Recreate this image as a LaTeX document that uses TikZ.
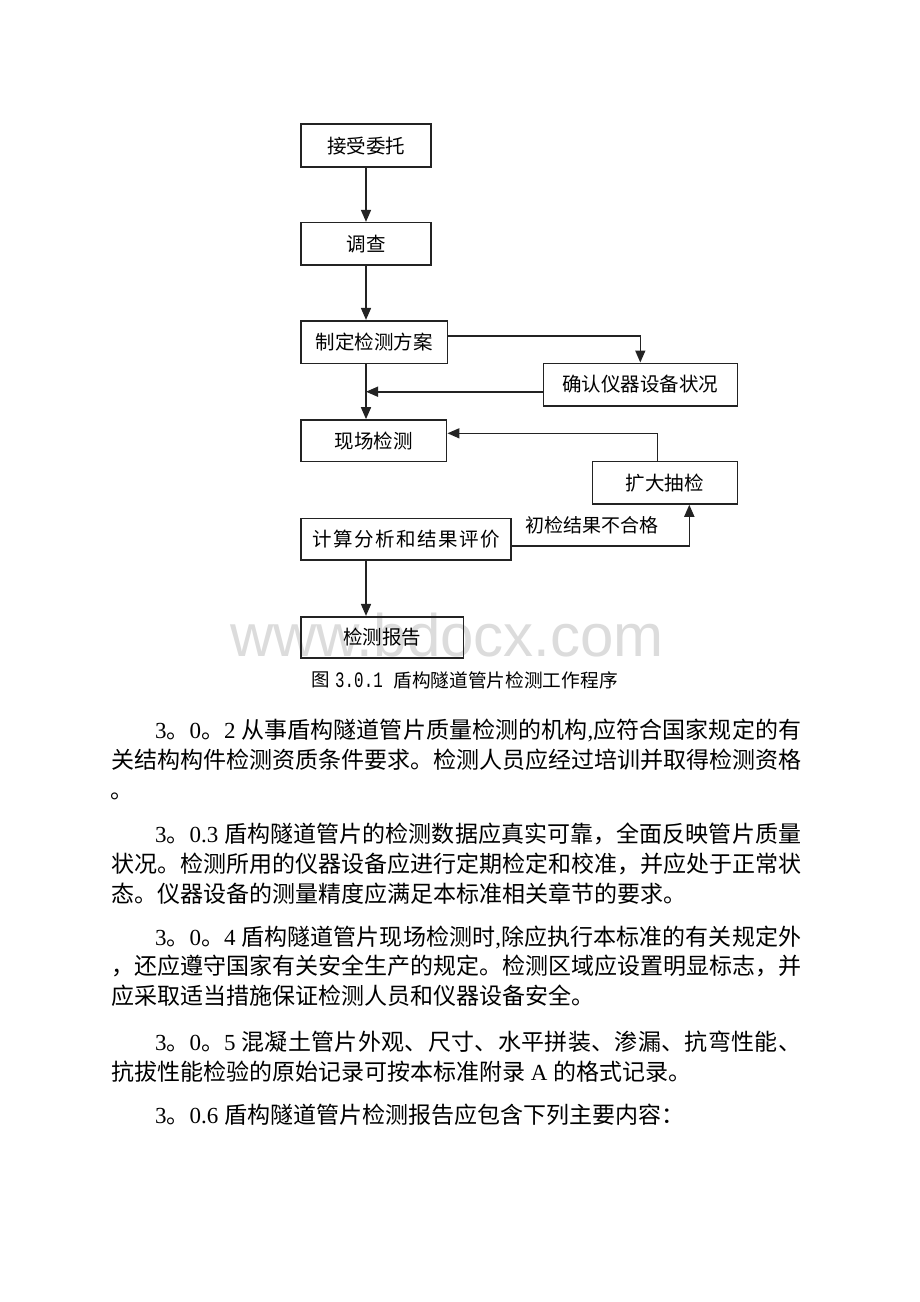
\documentclass[tikz,border=0pt]{standalone}
\usepackage{fontspec}
\usepackage{graphicx}
\setmainfont{Noto Sans CJK SC}
\newfontfamily\lat{Liberation Serif}
\newfontfamily\monof{Liberation Mono}
\newfontfamily\wmf{Liberation Sans}
\usetikzlibrary{arrows.meta}
\definecolor{wmc}{RGB}{220,220,220}
\definecolor{ln}{RGB}{35,35,35}
\newcommand\flA[1]{\hbox to 690pt{#1}}
\newcommand\flB[1]{\hbox to 646pt{#1}}
\def\spr#1{#1\spri}
\def\spri#1{\ifx#1\relax\else\hskip0pt plus 1fil #1\expandafter\spri\fi}
\def\gl{\hskip0pt plus 1fil}
\begin{document}
\begin{tikzpicture}[x=1pt,y=-1pt,
  box/.style={draw=ln,line width=1.6pt,inner sep=0pt,font=\fontsize{19.5}{19.5}\selectfont},
  arr/.style={draw=ln,line width=1.6pt,-{Triangle[length=12pt,width=10pt]}},
  lbl/.style={inner sep=0pt,font=\fontsize{19}{19}\selectfont},
  body/.style={anchor=base west,inner sep=0pt,font=\fontsize{23}{23}\selectfont}]
\useasboundingbox (0,0) rectangle (920,1302);
\fill[white] (0,0) rectangle (920,1302);
% watermark
\node[anchor=base east,inner sep=0pt,text=wmc,font=\wmf\fontsize{60}{60}\selectfont] (wmk) at (664,656) {www.bdocx.com};
% boxes
\node[box,minimum width=130,minimum height=43] (A) at (366,145.7) {接受委托};
\node[box,minimum width=130,minimum height=42.3] (B) at (366,243.8) {调查};
\node[box,minimum width=146.3,minimum height=42.6] (C) at (374.2,342) {制定检测方案};
\node[box,minimum width=194,minimum height=42.4] (D) at (640.3,384.5) {确认仪器设备状况};
\node[box,minimum width=145.7,minimum height=41.7] (E) at (373.8,440.8) {现场检测};
\node[box,minimum width=145,minimum height=42.3] (F) at (664.8,482.8) {扩大抽检};
\node[box,minimum width=210,minimum height=41.7] (G) at (406,539.2) {\addfontfeature{LetterSpace=8}计算分析和结果评价};
\node[box,minimum width=162.3,minimum height=41] (H) at (382.2,637.2) {检测报告};
% helper coordinates
\coordinate (col) at (366,0);
\coordinate (cd) at (640.3,336);
\coordinate (dc) at (0,391.7);
\coordinate (fe) at (657.3,433.3);
\coordinate (gf) at (689.3,545.7);
% connectors
\draw[arr] (A.south) -- (B.north);
\draw[arr] (B.south) -- (col |- C.north);
\draw[arr] (col |- C.south) -- (col |- E.north);
\draw[arr] (C.east |- cd) -| (D.north);
\draw[arr] (D.west |- dc) -- (col |- dc);
\draw[arr] (F.north -| fe) |- (E.east |- fe);
\draw[arr] (G.east |- gf) -| (F.south -| gf);
\draw[arr] (col |- G.south) -- (col |- H.north);
\node[lbl] (L) at (592,525) {初检结果不合格};
% caption
\node[inner sep=0pt,font=\fontsize{18.5}{18.5}\selectfont] (cap1) at (321,680) {图};
\node[inner sep=0pt] (cap2) at (359,680) {\monof\fontsize{22}{22}\selectfont\scalebox{0.72}[1]{3.0.1}};
\node[inner sep=0pt,font=\fontsize{18.7}{18.7}\selectfont] (cap3) at (505.5,680) {盾构隧道管片检测工作程序};
% body text
\node[body] (p1a) at (155,738.6) {\flB{{\lat 3}。{\lat 0}。{\lat 2 }\spr 从事盾构隧道管片质量检测的机构\relax\gl{\lat ,}\gl\spr 应符合国家规定的有\relax}};
\node[body] (p1b) at (111,768.6) {\flA{\spr 关结构构件检测资质条件要求。检测人员应经过培训并取得检测资格\relax}};
\node[body] (p1c) at (110,798.6) {。};
\node[body] (p2a) at (155,842.6) {\flB{{\lat 3}。{\lat 0.3 }\spr 盾构隧道管片的检测数据应真实可靠，全面反映管片质量\relax}};
\node[body] (p2b) at (111,872.6) {\flA{\spr 状况。检测所用的仪器设备应进行定期检定和校准，并应处于正常状\relax}};
\node[body] (p2c) at (111,902.6) {态。仪器设备的测量精度应满足本标准相关章节的要求。};
\node[body] (p3a) at (155,945.6) {\flB{{\lat 3}。{\lat 0}。{\lat 4 }\spr 盾构隧道管片现场检测时\relax\gl{\lat ,}\gl\spr 除应执行本标准的有关规定外\relax}};
\node[body] (p3b) at (111,974.6) {\flA{\spr ，还应遵守国家有关安全生产的规定。检测区域应设置明显标志，并\relax}};
\node[body] (p3c) at (111,1004.6) {应采取适当措施保证检测人员和仪器设备安全。};
\node[body] (p4a) at (155,1050.1) {\flB{{\lat 3}。{\lat 0}。{\lat 5 }\spr 混凝土管片外观、尺寸、水平拼装、渗漏、抗弯性能、\relax}};
\node[body] (p4b) at (111,1080.1) {抗拔性能检验的原始记录可按本标准附录{\lat\ A }的格式记录。};
\node[body] (p5a) at (155,1123.6) {{\lat 3}。{\lat 0.6 }盾构隧道管片检测报告应包含下列主要内容：};
\end{tikzpicture}
\end{document}
